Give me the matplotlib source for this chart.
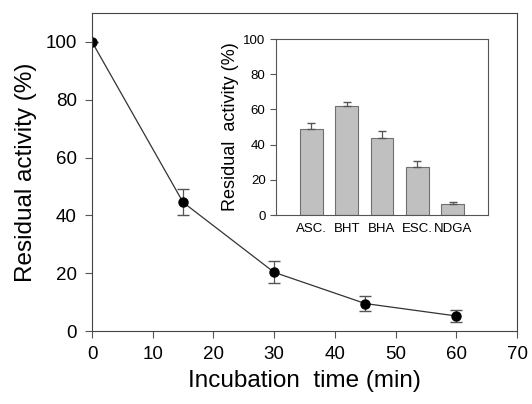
import numpy as np
import matplotlib
matplotlib.use('Agg')
import matplotlib.pyplot as plt

plt.rcParams['font.family'] = ['Liberation Sans', 'DejaVu Sans']

# main curve
times = [0, 15, 30, 45, 60]
activity = [100, 44.5, 20.3, 9.5, 5.2]
activity_err = [0, 4.5, 3.8, 2.7, 2.2]

# inset bars
antioxidants = ['ASC.', 'BHT', 'BHA', 'ESC.', 'NDGA']
bar_values = [49, 62, 44, 27.5, 6]
bar_err = [3, 2, 3.5, 3, 1.5]

fig = plt.figure(figsize=(5.32, 4.04), dpi=100)
W, H = 532, 404
ax = fig.add_axes([92 / W, 1 - 331 / H, (517 - 92) / W, (331 - 13) / H])

ax.errorbar(times, activity, yerr=activity_err, color='#333333', lw=0.9,
            marker='o', ms=6.5, mfc='black', mec='black',
            ecolor='#555555', elinewidth=0.9, capsize=4)
ax.set_xlim(0, 70)
ax.set_ylim(0, 110)
ax.set_xticks(np.arange(0, 71, 10))
ax.set_yticks(np.arange(0, 101, 20))
ax.tick_params(direction='out', length=5, labelsize=13.5, width=0.8,
               color='#555555', pad=6)
for s in ax.spines.values():
    s.set_color('#444444')
    s.set_linewidth(0.8)
ax.set_xlabel('Incubation  time (min)', fontsize=17.5, labelpad=5)
ax.set_ylabel('Residual activity (%)', fontsize=17.5, labelpad=6)

# inset
ins = fig.add_axes([276 / W, 1 - 215 / H, (488 - 276) / W, (215 - 39) / H])
x = np.arange(len(antioxidants))
ins.bar(x, bar_values, width=0.65, color='#c0c0c0', edgecolor='#707070', lw=0.8,
        yerr=[np.zeros(len(bar_err)), bar_err],
        error_kw=dict(ecolor='#555555', elinewidth=0.9, capsize=3))
ins.set_xlim(-1, 5)
ins.set_ylim(0, 100)
ins.set_yticks(np.arange(0, 101, 20))
ins.set_xticks(x)
ins.set_xticklabels(antioxidants)
ins.tick_params(axis='y', direction='out', length=4, labelsize=9.5, color='#555555')
ins.tick_params(axis='x', length=0, labelsize=9.5, pad=6)
for s in ins.spines.values():
    s.set_color('#555555')
    s.set_linewidth(0.8)
ins.set_ylabel('Residual  activity (%)', fontsize=13, labelpad=3)

fig.savefig('out.png', dpi=100)
